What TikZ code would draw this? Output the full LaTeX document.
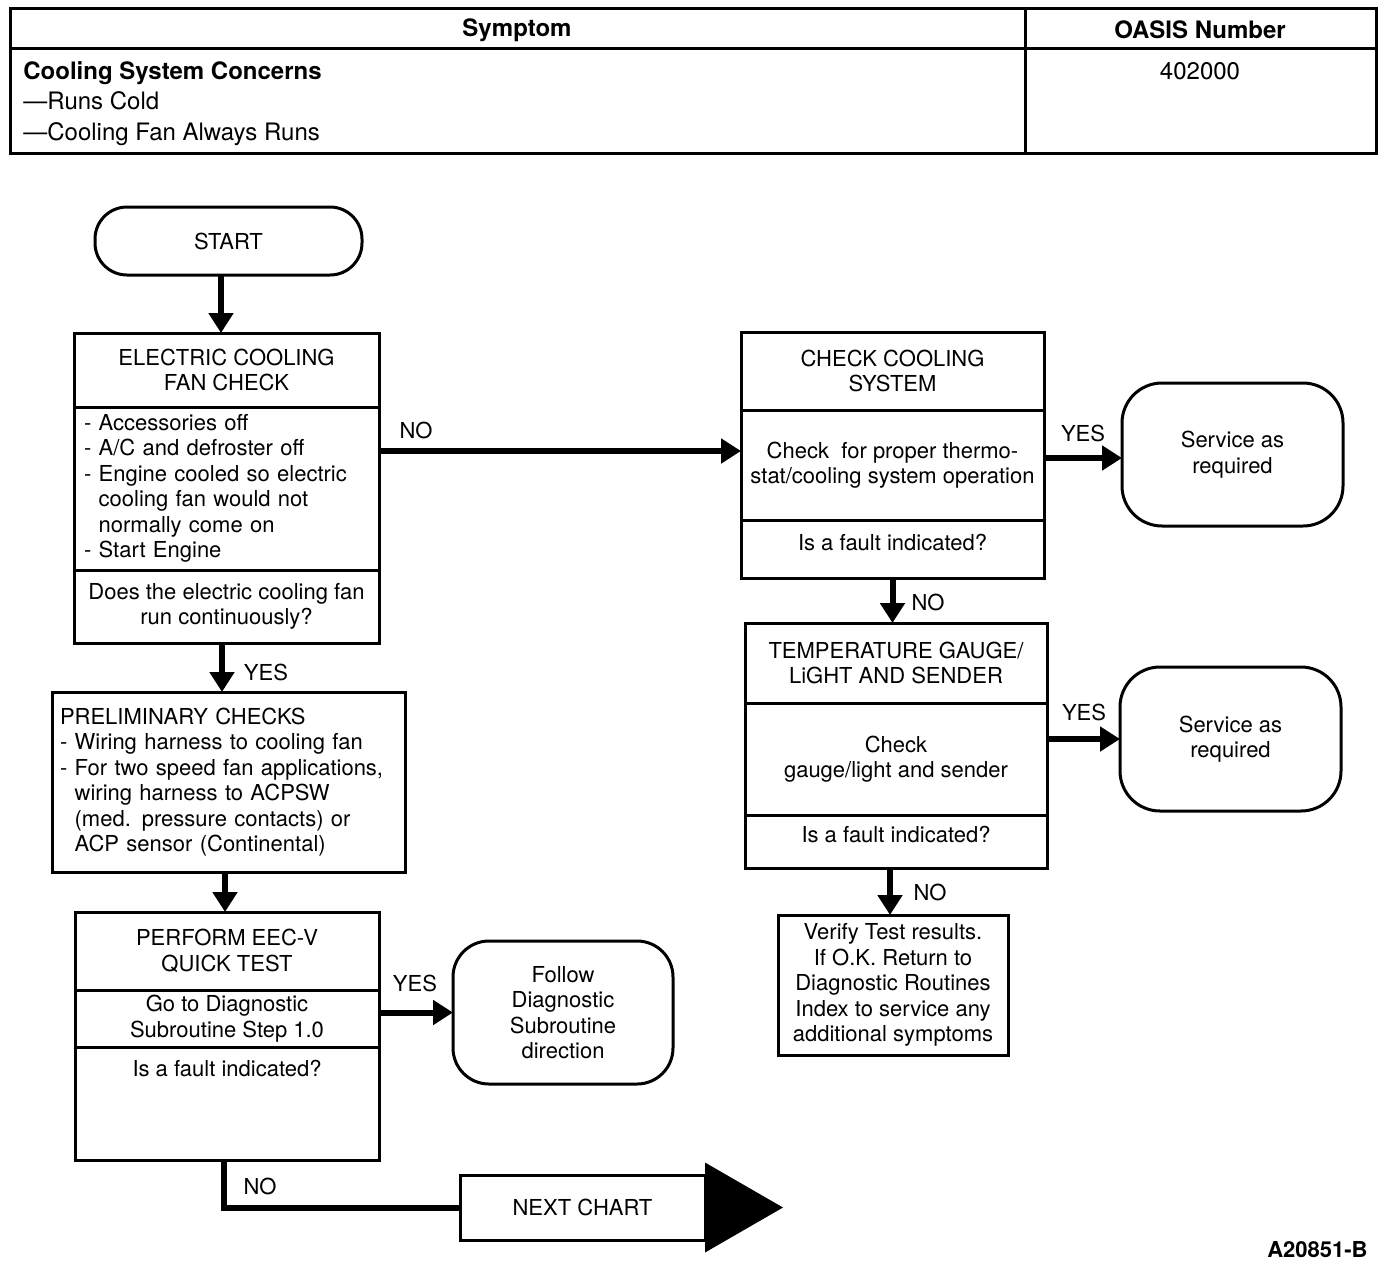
\documentclass[tikz,border=0pt]{standalone}
\usepackage{fontspec}
\setmainfont{TeX Gyre Heros}
\usetikzlibrary{arrows.meta,positioning}
\tikzset{every node/.style={font=\fontsize{11}{12.75}\selectfont},
 part/.style={draw,line width=1.5pt,outer sep=0pt,inner xsep=3pt,inner ysep=0pt,
 align=center,minimum width=#1},
 term/.style={draw,line width=1.5pt,outer sep=0pt,rounded corners=20pt,align=center},
 plain/.style={draw,line width=1.5pt,outer sep=0pt,align=center},
 flow/.style={line width=3pt,-{Triangle[length=10pt,width=12pt]}},
 wire/.style={line width=3pt},
 head/.style={font=\fontsize{12}{14}\selectfont\bfseries,inner sep=0pt},
 cell/.style={font=\fontsize{12}{14}\selectfont,inner sep=0pt},
 lbl/.style={inner sep=0pt}}

\begin{document}
\begin{tikzpicture}[x=0.5pt,y=-0.5pt]
\useasboundingbox (0,0) rectangle (1392,1264);
% symptom table
\draw[line width=1.5pt] (10,8) rectangle (1376,153) (10,48) -- (1376,48) (1025,8) -- (1025,153);
\node[head] (symptom) at (517,30) {Symptom};
\node[head] (oasis) at (1200,30) {OASIS Number};
\node[head,anchor=west] (concern) at (23,73) {Cooling System Concerns};
\node[cell,anchor=west] (cold) at (23,101) {—Runs Cold};
\node[cell,anchor=west] (fanruns) at (23,134) {—Cooling Fan Always Runs};
\node[cell] (oasisno) at (1200,71) {402000};

% left column
\node[term,minimum width=133.5pt,minimum height=34pt,rounded corners=16pt] (start) at (228.5,241) {START};
\node[part=152.5pt,minimum height=37pt,anchor=north west] (b1t) at (74,333) {ELECTRIC COOLING\\FAN CHECK};
\node[part=152.5pt,minimum height=81.5pt,below=0pt of b1t,align=left,inner xsep=5pt,text width=142.5pt] (b1b)
 {- Accessories off\\- A/C and defroster off\\- Engine cooled so electric\\\hphantom{- }cooling fan would not\\\hphantom{- }normally come on\\- Start Engine};
\node[part=152.5pt,minimum height=36.5pt,below=0pt of b1b] (b1q) {Does the electric cooling fan\\run continuously?};
\node[part=176.5pt,minimum height=90pt,anchor=north west,align=left,inner xsep=4pt,text width=168.5pt] (pre) at (52,692)
 {PRELIMINARY CHECKS\\- Wiring harness to cooling fan\\- For two speed fan applications,\\\hphantom{- }wiring harness to ACPSW\\\hphantom{- }(med. pressure contacts) or\\\hphantom{- }ACP sensor (Continental)};
\node[part=152pt,minimum height=39pt,anchor=north west] (b5t) at (75,912) {PERFORM EEC-V\\QUICK TEST};
\node[part=152pt,minimum height=28.5pt,below=0pt of b5t] (b5b) {Go to Diagnostic\\Subroutine Step 1.0};
\node[part=152pt,minimum height=56.5pt,below=0pt of b5b,text height=8pt,text depth=35.5pt] (b5q) {Is a fault indicated?};
\node[term,minimum width=110pt,minimum height=71.5pt,rounded corners=18pt] (follow) at (563,1012.5) {Follow\\Diagnostic\\Subroutine\\direction};
\node[plain,minimum width=122.5pt,minimum height=32.5pt] (next) at (582.5,1207.5) {NEXT CHART};
\fill ([yshift=22.5pt]next.east) -- ([xshift=39pt]next.east) -- ([yshift=-22.5pt]next.east) -- cycle;

% right column
\node[part=151.5pt,minimum height=39pt,anchor=north west] (b2t) at (741,332) {CHECK COOLING\\SYSTEM};
\node[part=151.5pt,minimum height=55pt,below=0pt of b2t] (b2b) {Check\ \ for proper thermo-\\stat/cooling system operation};
\node[part=151.5pt,minimum height=29pt,below=0pt of b2b,text height=8pt,text depth=7pt] (b2q) {Is a fault indicated?};
\node[term,minimum width=110.5pt,minimum height=71.5pt] (svc1) at (1232.5,454.5) {Service as\\required};
\node[part=151pt,minimum height=40pt,anchor=north west] (b3t) at (745,623) {TEMPERATURE GAUGE/\\LiGHT AND SENDER};
\node[part=151pt,minimum height=56pt,below=0pt of b3t] (b3b) {Check\\gauge/light and sender};
\node[part=151pt,minimum height=26.5pt,below=0pt of b3b,text height=8pt,text depth=7.5pt] (b3q) {Is a fault indicated?};
\node[term,minimum width=110.5pt,minimum height=72pt] (svc2) at (1230.5,739) {Service as\\required};
\node[plain,minimum width=115pt,minimum height=70pt,inner sep=2pt] (verify) at (893,985)
 {Verify Test results.\\If O.K. Return to\\Diagnostic Routines\\Index to service any\\additional symptoms};
\node[font=\fontsize{11}{12.75}\selectfont\bfseries,anchor=east,inner sep=0pt] (figno) at (1368,1250) {A20851-B};

% connectors
\draw[flow] ([xshift=-3.75pt]start.south) -- ([xshift=-3.75pt]start.south |- b1t.north);
\draw[flow] ([yshift=18.75pt]b1b.east) -- ([yshift=18.75pt]b1b.east -| b2b.west);
\draw[flow] ([xshift=-2.25pt]b1q.south) -- ([xshift=-2.25pt]b1q.south |- pre.north);
\draw[flow] ([xshift=-1.75pt]pre.south) -- ([xshift=-1.75pt]pre.south |- b5t.north);
\draw[flow] (follow.west -| b5b.east) -- (follow.west);
\draw[wire] ([xshift=-1.5pt]b5q.south) |- (next.west);
\draw[flow] ([yshift=3.5pt]b2b.east) -- ([yshift=3.5pt]b2b.east -| svc1.west);
\draw[flow] (b2q.south) -- (b2q.south |- b3t.north);
\draw[flow] (svc2.west -| b3b.east) -- (svc2.west);
\draw[flow] ([xshift=-3pt]b3q.south) -- ([xshift=-3pt]b3q.south |- verify.north);

% labels
\node[lbl] (no1) at (416,430) {NO};
\node[lbl] (yes1) at (266,672) {YES};
\node[lbl] (yes2) at (415,983) {YES};
\node[lbl] (no2) at (260,1186) {NO};
\node[lbl] (yes3) at (1083,433) {YES};
\node[lbl] (no3) at (928,602) {NO};
\node[lbl] (yes4) at (1084,712) {YES};
\node[lbl] (no4) at (930,892) {NO};
\end{tikzpicture}
\end{document}
